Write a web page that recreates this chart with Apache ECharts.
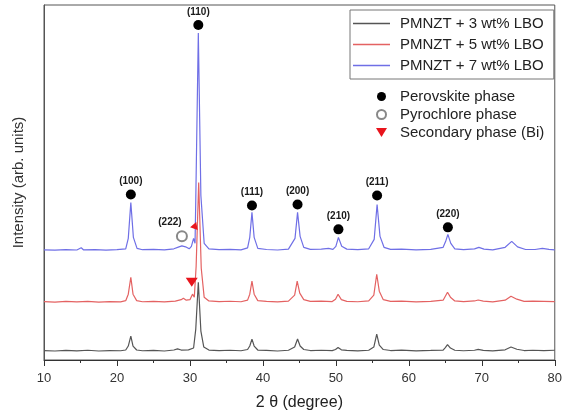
<!DOCTYPE html>
<html>
<head>
<meta charset="utf-8">
<script src="https://cdn.jsdelivr.net/npm/echarts@6/dist/echarts.min.js"></script>
<style>html,body{margin:0;padding:0;background:#fff}#c{width:565px;height:416px}</style>
</head>
<body>
<div id="c"></div>
<script>
// ---- data (2θ in degrees, intensity in arb. units; each trace has a vertical offset) ----
var seriesNames = ['PMNZT + 3 wt% LBO', 'PMNZT + 5 wt% LBO', 'PMNZT + 7 wt% LBO'];
var seriesOffsets = [9, 58, 110];
var xTicks = [10, 20, 30, 40, 50, 60, 70, 80];

var lbo3 = [
[10,0.5],[11.5,0],[13,0.6],[14.5,0.2],[16,0.8],[17.5,0],[19,0.5],[20.5,0.3],[21.2,1],[21.55,5],[21.9,15],[22.2,5],[22.7,1],[23.5,0.3],[25,0.6],[26.5,0],[27.8,1],[28.3,2.2],[28.8,1],[29.8,1.2],[30.5,3],[30.8,22],[31.15,69],[31.5,20],[31.9,4],[32.6,1],[34,0.4],[35.5,0.8],[37,0.3],[37.9,1.5],[38.2,5],[38.5,12],[38.8,5],[39.3,1],[40.5,0.6],[42,0],[43.5,0.8],[44.35,4],[44.75,12],[45.1,5],[45.6,1.5],[46.5,0.5],[48,0.8],[49.5,0.4],[49.95,1.5],[50.3,3.5],[50.75,1.2],[51.5,0.6],[53,0.2],[54.5,0.8],[55.2,4],[55.6,17],[55.95,6],[56.5,1.5],[57.5,0.5],[59,0.9],[61,0.2],[63,0.6],[64.7,1],[65.0,3.5],[65.3,6.5],[65.7,3],[66.3,0.8],[67.5,0.3],[69.0,0.8],[69.5,1.6],[70.2,0.7],[71.5,0.2],[73.2,1.2],[74.0,4],[74.8,1.8],[75.8,0.5],[77,0.8],[78.5,0.4],[80,0.8]
];
var lbo5 = [
[10,0.6],[11.5,0],[13,0.8],[14.5,0.2],[16,0.7],[17.5,0.1],[19,0.6],[20.5,0.3],[21.2,1.5],[21.55,8],[21.9,25],[22.2,8],[22.7,1.5],[23.5,0.4],[25,0.8],[26.5,0.2],[28,1],[28.8,2.5],[29.1,4],[29.5,2],[30.0,2.5],[30.35,8],[30.6,5],[30.85,36],[31.2,120],[31.55,34],[31.95,5],[32.6,1.2],[34,0.5],[35.5,0.9],[37,0.4],[37.9,2],[38.2,8],[38.5,21],[38.8,8],[39.3,1.5],[40.5,0.7],[42,0.2],[43.5,1],[44.35,7],[44.7,21],[45.05,9],[45.6,2.5],[46.5,0.8],[48,1],[49.5,0.6],[49.95,3],[50.3,8],[50.75,2.5],[51.5,0.8],[53,0.4],[54.5,1.2],[55.2,7],[55.6,28],[55.95,11],[56.5,2.5],[57.5,0.8],[59,1],[61,0.3],[63,0.8],[64.7,2],[65.0,6],[65.3,10],[65.7,5],[66.3,1.2],[67.5,0.5],[69.0,1.2],[69.5,2.2],[70.2,1],[71.5,0.3],[73.2,2],[74.0,6],[74.8,3],[75.8,0.8],[77,1],[78.5,0.8],[80,0.5]
];
var lbo7 = [
[10,0.5],[11.5,0.1],[13,0.7],[14.5,0.3],[15.1,2.5],[15.4,0.5],[17,0.6],[18.5,0.1],[20,0.6],[21.2,1.5],[21.55,12],[21.9,48],[22.25,13],[22.75,2],[23.5,0.6],[25,0.9],[26.5,0.4],[27.8,1.5],[28.5,3.5],[28.9,4.5],[29.4,3.5],[29.9,1.5],[30.2,4],[30.5,12],[30.7,7],[30.8,50],[31.15,218],[31.5,55],[31.95,7],[32.6,1.5],[34,0.6],[35.5,1],[37,0.5],[37.9,2.5],[38.2,13],[38.5,38],[38.8,13],[39.3,2],[40.5,0.8],[42,0.3],[43.5,1.2],[44.4,12],[44.75,38],[45.1,14],[45.6,3],[46.5,1],[48,1.2],[49.0,2],[49.6,1],[50.0,4],[50.35,13],[50.8,4],[51.5,1.2],[53,0.6],[54.5,1.5],[55.25,11],[55.65,46],[56.05,14],[56.6,3],[57.5,1],[59,1.2],[61,0.5],[63,1],[64.7,3],[65.05,9],[65.35,16],[65.75,7],[66.3,1.5],[67.5,0.6],[69.0,1.5],[69.6,3],[70.3,1.2],[71.5,0.5],[73.2,3],[74.1,9],[74.9,3.5],[76,0.8],[77.3,0.8],[78.3,2],[79.2,1],[80,0.5]
];

// phase markers (annotation positions in the same axis units)
var phaseNames = ['Perovskite phase', 'Pyrochlore phase', 'Secondary phase (Bi)'];
var perovLabels = ['(100)', '(110)', '(111)', '(200)', '(210)', '(211)', '(220)'];
var perovX = [21.9, 31.15, 38.5, 44.75, 50.35, 55.65, 65.35];
var perovY = [166, 336, 155, 156, 131, 165, 133];
var pyroLabels = ['(222)'];
var pyroX = [28.9];
var pyroY = [124];
var biX = [30.25, 30.75];
var biY = [78, 133];
var biRotate = [0, 40];

// ---- build options ----
var traceColors = ['#555555', '#e46262', '#6f6fe6'];
var traces = [lbo3, lbo5, lbo7];
var lineSeries = traces.map(function (arr, i) {
  return {
    name: seriesNames[i],
    type: 'line',
    symbol: 'none',
    data: arr.map(function (p) { return [p[0], p[1] + seriesOffsets[i]]; }),
    lineStyle: { color: traceColors[i], width: 1.2 },
    itemStyle: { color: traceColors[i] },
    z: 2 + i
  };
});

var downTri = 'path://M0,0L10,0L5,8Z';
var font = 'Liberation Sans, Arial, sans-serif';

var perovSeries = {
  name: phaseNames[0], type: 'scatter', symbol: 'circle', symbolSize: 10,
  itemStyle: { color: '#000', opacity: 1 }, z: 10,
  label: { show: true, position: 'top', distance: 3, formatter: '{b}',
           fontSize: 10, fontWeight: 'bold', color: '#1a1a1a', fontFamily: font },
  data: perovX.map(function (x, i) { return { name: perovLabels[i], value: [x, perovY[i]] }; })
};
var pyroSeries = {
  name: phaseNames[1], type: 'scatter', symbol: 'emptyCircle', symbolSize: 10,
  itemStyle: { color: '#888', borderWidth: 1, opacity: 1 }, z: 10,
  label: { show: true, position: 'top', distance: 3, offset: [-12, 0], formatter: '{b}',
           fontSize: 10, fontWeight: 'bold', color: '#1a1a1a', fontFamily: font },
  data: pyroX.map(function (x, i) { return { name: pyroLabels[i], value: [x, pyroY[i]] }; })
};
var biSeries = {
  name: phaseNames[2], type: 'scatter', symbol: downTri, symbolSize: [12, 9],
  itemStyle: { color: '#e8141c', opacity: 1 }, z: 10,
  data: biX.map(function (x, i) {
    return { value: [x, biY[i]], symbolRotate: biRotate[i], symbolSize: i === 0 ? [12, 9] : [8, 7] };
  })
};

var chart = echarts.init(document.getElementById('c'), null, { renderer: 'canvas' });
chart.setOption({
  animation: false,
  backgroundColor: '#fff',
  grid: { left: 44, right: 6, top: 5, bottom: 55, show: true, borderColor: '#555', borderWidth: 1 },
  legend: [
    {
      data: seriesNames, orient: 'vertical', left: 350, top: 10, icon: 'rect',
      borderColor: '#777', borderWidth: 1, padding: [6, 10, 6, 3], itemGap: 6,
      itemWidth: 37, itemHeight: 1.5,
      textStyle: { fontSize: 15, color: '#222', fontFamily: font, padding: [0, 0, 0, 5] }
    },
    {
      data: [
        { name: phaseNames[0], icon: 'circle' },
        { name: phaseNames[1], icon: 'emptyCircle' },
        { name: phaseNames[2], icon: downTri }
      ],
      orient: 'vertical', left: 376, top: 89, padding: 0, itemGap: 3,
      itemWidth: 11, itemHeight: 9,
      textStyle: { fontSize: 15, color: '#222', fontFamily: font, padding: [0, 0, 0, 8] }
    }
  ],
  xAxis: {
    type: 'value', min: xTicks[0], max: xTicks[xTicks.length - 1], interval: 10,
    name: '2 θ (degree)', nameLocation: 'middle', nameGap: 35,
    nameTextStyle: { fontSize: 16, color: '#222', fontFamily: font },
    axisLine: { lineStyle: { color: '#333', width: 1 } },
    axisTick: { show: true, inside: false, length: 6, lineStyle: { color: '#333' } },
    minorTick: { show: true, splitNumber: 2, length: 3, lineStyle: { color: '#333' } },
    axisLabel: { fontSize: 13, color: '#333', margin: 12, fontFamily: font },
    splitLine: { show: false }
  },
  yAxis: {
    type: 'value', min: 0, max: 356,
    name: 'Intensity (arb. units)', nameLocation: 'middle', nameGap: 18,
    nameTextStyle: { fontSize: 15, color: '#333', fontFamily: font },
    axisLine: { show: true, lineStyle: { color: '#555' } },
    axisTick: { show: false }, axisLabel: { show: false }, splitLine: { show: false }
  },
  series: lineSeries.concat([perovSeries, pyroSeries, biSeries])
});
</script>
</body>
</html>
